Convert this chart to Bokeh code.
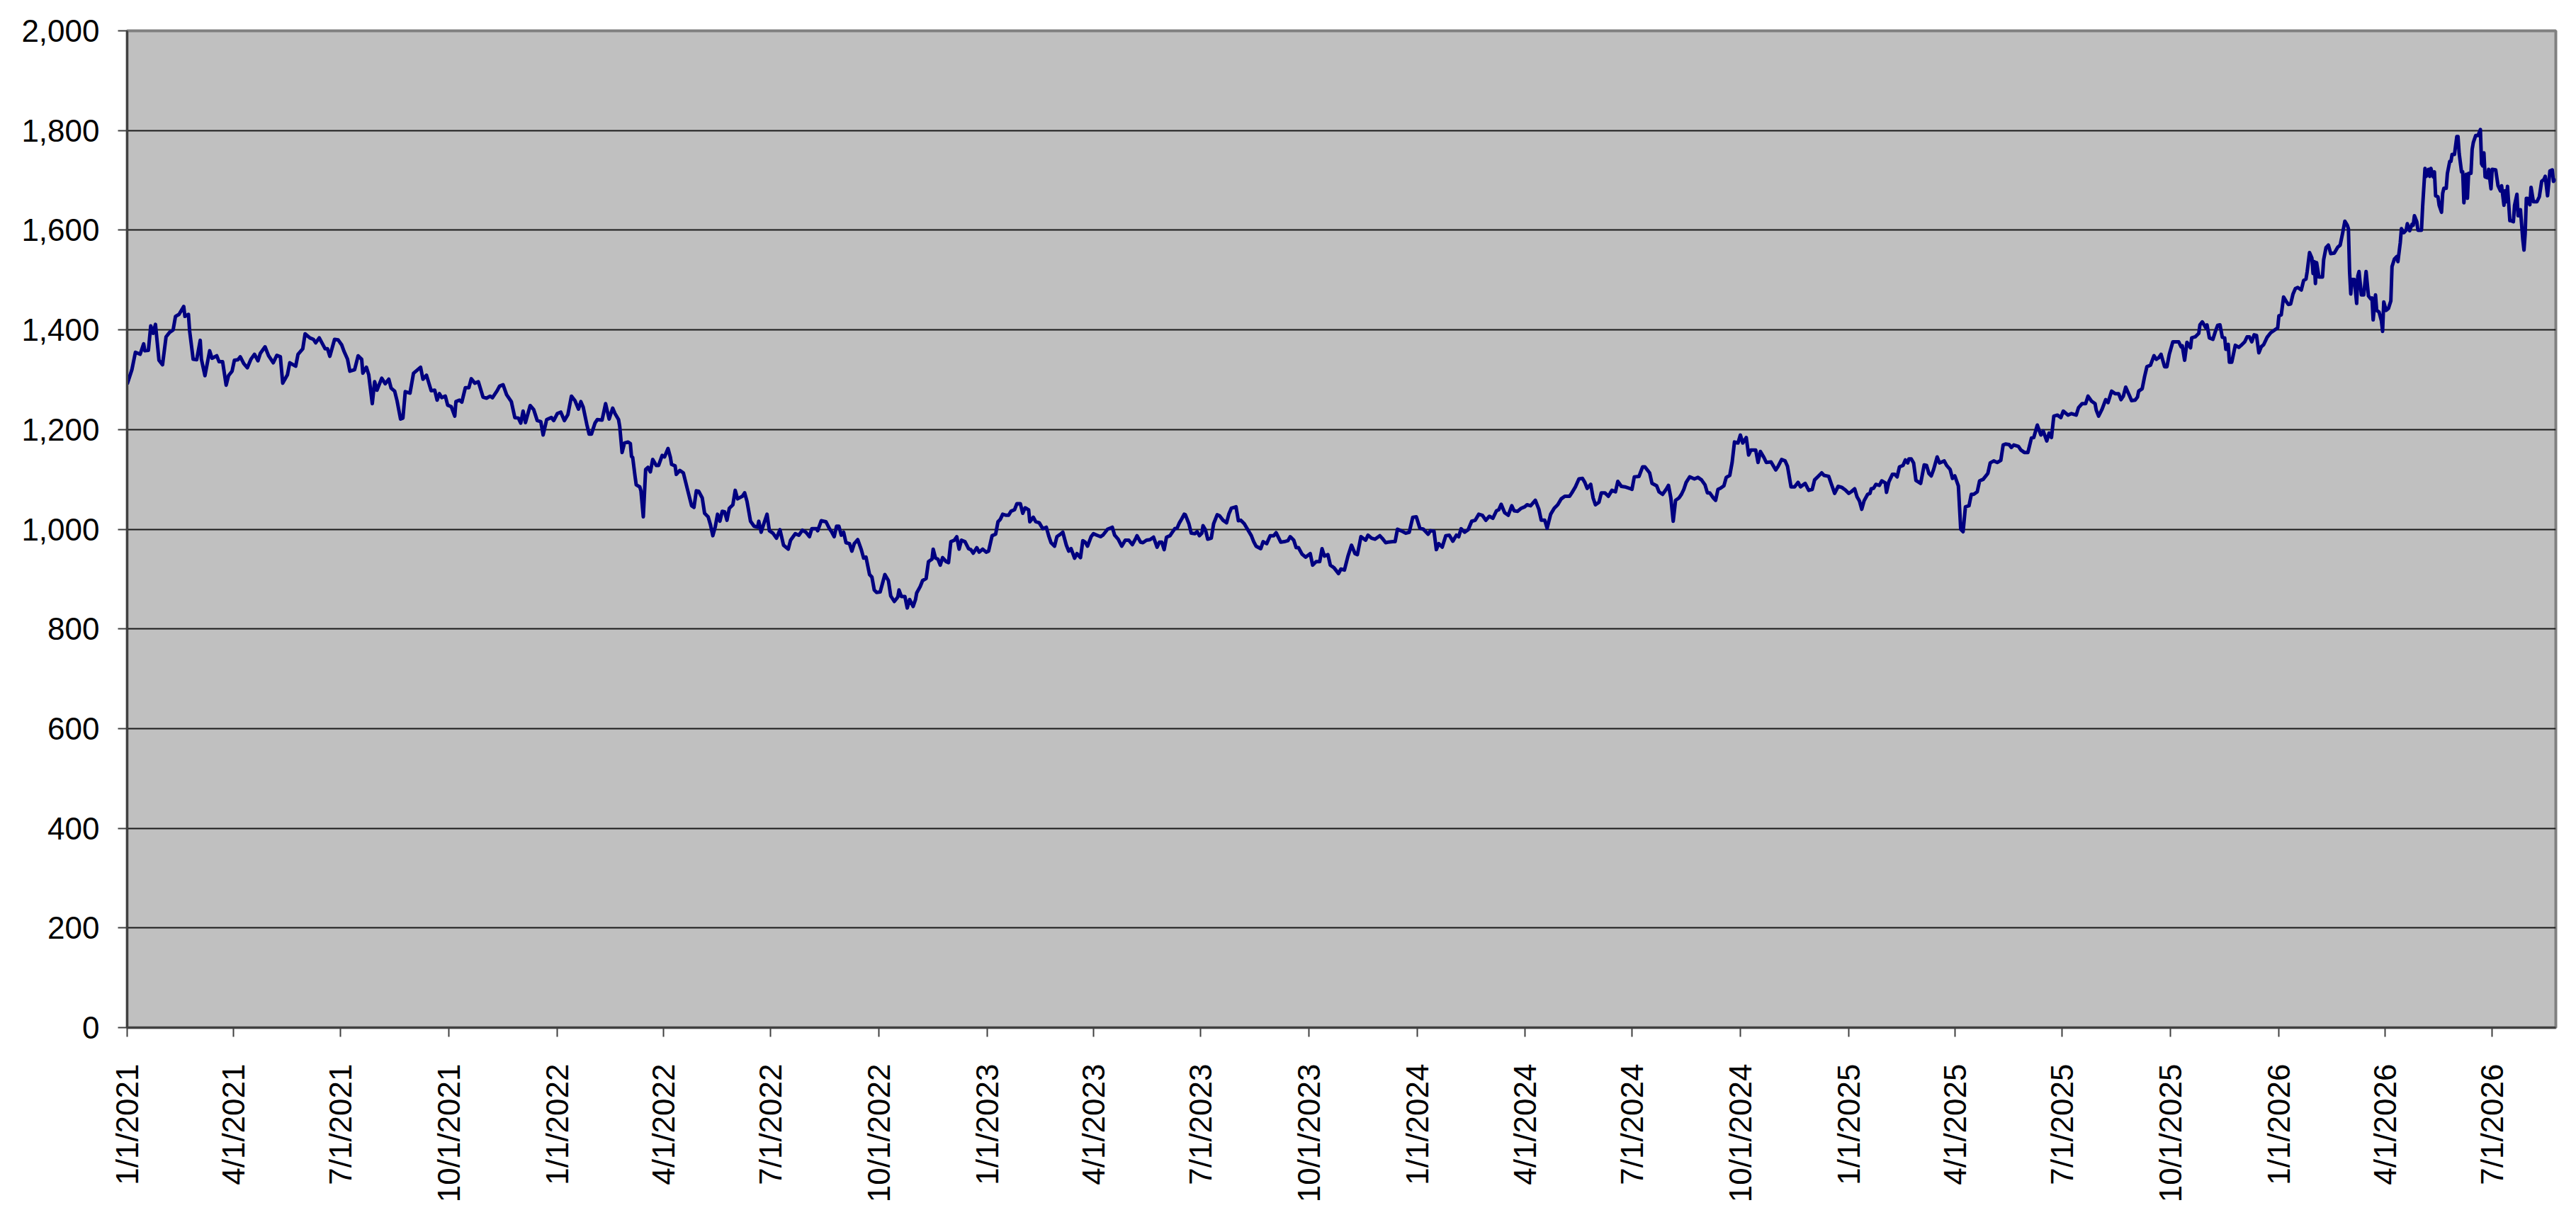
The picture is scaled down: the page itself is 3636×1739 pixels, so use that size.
import math
import numpy as np
import pandas as pd
from bokeh.plotting import figure
from bokeh.models import FixedTicker, NumeralTickFormatter, Range1d
from bokeh.embed import file_html
from bokeh.resources import INLINE

# (days since 1/1/2021, value)
obs_2021 = [(0,1291),(4,1320),(7,1355),(11,1351),(14,1372),(15,1358),(18,1359),(20,1408),(22,1393),(24,1411),
 (27,1339),(30,1330),(33,1386),(36,1395),(39,1400),(41,1427),(44,1431),(48,1447),(49,1427),(52,1431),
 (53,1398),(56,1341),(59,1340),(62,1379),(63,1341),(66,1308),(70,1358),(72,1343),(76,1348),(78,1336),
 (81,1336),(84,1289),(86,1308),(89,1317),(91,1339),(94,1340),(96,1346),(99,1332),(102,1324),(105,1341),
 (108,1351),(111,1338),(113,1353),(117,1366),(120,1348),(124,1334),(127,1349),(130,1346),(132,1293),(136,1310),
 (138,1334),(143,1327),(145,1351),(149,1362),(151,1392),(155,1384),(158,1381),(160,1374),(163,1384),(168,1362),
 (170,1362),(172,1347),(176,1381),(179,1380),(182,1370),(184,1357),(187,1341),(189,1317),(193,1320),(196,1348),
 (199,1341),(200,1313),(203,1325),(205,1310),(208,1252),(210,1296),(212,1279),(216,1303),(219,1292),(222,1301),
 (224,1283),(227,1277),(229,1258),(232,1221),(234,1223),(236,1276),(240,1273),(243,1313),(246,1319),(249,1325),
 (251,1301),(254,1309),(258,1278),(261,1279),(263,1259),(265,1272),(267,1264),(270,1267),(272,1249),(275,1246),
 (278,1227),(279,1256),(282,1259),(284,1255),(287,1284),(290,1284),(292,1302),(295,1293),(298,1296),(302,1265),
 (305,1263),(308,1267),(310,1264),(314,1278),(316,1287),(319,1290),(322,1270),(326,1256),(329,1224),(332,1223),
 (334,1213),(336,1237),(338,1214),(342,1248),(345,1240),(348,1218),(351,1216),(353,1189)]

obs_2022 = [(356,1220),(360,1224),(362,1218),(365,1232),(368,1235),(371,1218),(374,1230),(377,1267),(380,1258),(383,1241),
 (385,1256),(387,1245),(390,1211),(392,1191),(394,1191),(397,1213),(399,1220),(403,1219),(406,1252),(409,1221),
 (412,1243),(414,1232),(417,1220),(418,1206),(420,1154),(422,1173),(425,1175),(427,1172),(428,1146),(429,1144),
 (431,1106),(432,1089),(435,1085),(436,1077),(438,1025),(440,1120),(442,1124),(444,1115),(446,1140),(449,1128),
 (451,1128),(454,1148),(456,1145),(459,1162),(461,1144),(462,1130),(465,1127),(466,1110),(469,1118),(472,1113),
 (474,1094),(476,1075),(479,1047),(481,1044),(483,1077),(485,1076),(488,1063),(490,1032),(493,1025),(495,1009),
 (497,987),(499,1004),(501,1030),(503,1016),(505,1036),(507,1035),(509,1018),(511,1042),(514,1049),(516,1078),
 (518,1061),(522,1066),(524,1073),(526,1056),(529,1016),(532,1006),(535,1004),(536,1016),(538,994),(540,1009),
 (543,1030),(545,997),(548,992),(551,982),(554,999),(557,968),(561,960),(563,978),(567,991),(570,988),
 (573,998),(576,994),(579,985),(581,1001),(585,1001),(586,997),(589,1017),(593,1015),(596,1001),(598,994),
 (600,985),(602,1006),(604,1006),(606,988),(608,994),(610,973),(613,971),(615,956),(617,971),(620,979),
 (623,959),(625,942),(627,944),(630,909),(632,904),(634,878),(636,873),(639,874),(643,909),(646,897),
 (648,866),(651,855),(654,864),(655,878),(657,865),(660,865),(662,842),(664,859),(667,845),(669,859),
 (670,872),(673,885),(675,897),(678,901),(680,935),(683,940),(684,960),(686,942),(688,940),(690,928),
 (692,943),(695,935),(697,933),(699,975),(702,978),(704,985),(706,960),(708,978),(711,975),(714,961)]

obs_2023 = [(716,959),(718,952),(721,963),(723,954),(726,960),(729,954),(731,956),(734,987),(737,990),(739,1015),
 (741,1020),(743,1030),(746,1028),(748,1028),(750,1036),(753,1039),(755,1051),(758,1051),(760,1032),(762,1043),
 (765,1039),(766,1015),(769,1024),(771,1015),(774,1013),(777,1001),(780,1004),(782,987),(784,973),(787,966),
 (789,985),(792,990),(794,994),(797,968),(799,956),(801,961),(804,942),(806,951),(809,943),(811,977),
 (813,974),(815,966),(818,985),(820,991),(823,988),(826,985),(828,988),(830,994),(832,1000),(836,1004),
 (838,988),(841,980),(844,966),(847,978),(850,978),(853,969),(856,982),(857,987),(860,974),(862,973),
 (865,978),(868,979),(871,984),(874,964),(876,974),(878,974),(880,959),(882,984),(885,987),(887,994),
 (889,1001),(891,1002),(893,1013),(895,1021),(897,1030),(898,1029),(901,1011),(903,992),(906,991),(908,995),
 (910,987),(912,992),(913,1007),(915,999),(917,980),(920,982),(922,1011),(925,1029),(927,1027),(930,1018),
 (933,1013),(935,1031),(937,1042),(941,1045),(943,1017),(945,1018),(948,1011),(951,999),(954,987),(956,975),
 (958,966),(962,961),(964,975),(967,971),(970,987),(973,987),(975,993),(979,974),(982,975),(985,977),
 (987,985),(990,978),(992,963),(994,963),(997,950),(1000,944),(1004,951),(1006,928),(1009,935),(1012,935),
 (1014,961),(1016,946),(1019,949),(1021,928),(1024,923),(1028,911),(1030,920),(1033,918),(1036,946),(1039,968),
 (1042,951),(1044,949),(1047,985),(1051,978),(1053,988),(1056,982),(1059,980),(1063,987),(1065,982),(1068,973),
 (1070,974),(1074,975),(1076,975),(1078,1000),(1081,997)]

obs_2024 = [(1085,992),(1088,994),(1091,1024),(1094,1025),(1097,1002),(1100,1000),(1104,990),(1106,997),(1109,996),(1111,959),
 (1113,971),(1116,964),(1119,987),(1122,988),(1125,976),(1128,988),(1130,985),(1132,1001),(1135,994),(1138,999),
 (1141,1016),(1144,1018),(1147,1030),(1150,1028),(1153,1018),(1156,1026),(1159,1022),(1162,1037),(1164,1039),(1166,1050),
 (1169,1033),(1172,1028),(1175,1047),(1177,1037),(1180,1036),(1183,1042),(1186,1045),(1188,1049),(1191,1047),(1195,1058),
 (1198,1040),(1200,1018),(1203,1018),(1205,1002),(1208,1030),(1211,1042),(1214,1049),(1217,1061),(1220,1066),(1224,1066),
 (1226,1073),(1229,1085),(1232,1101),(1235,1102),(1237,1094),(1239,1082),(1242,1090),(1244,1063),(1246,1049),(1249,1054),
 (1251,1073),(1254,1073),(1257,1066),(1260,1078),(1263,1075),(1265,1096),(1268,1086),(1271,1085),(1275,1082),(1277,1080),
 (1279,1105),(1283,1106),(1286,1125),(1288,1125),(1292,1113),(1294,1092),(1298,1087),(1300,1075),(1303,1070),(1306,1080),
 (1308,1088),(1310,1063),(1312,1016),(1314,1058),(1317,1063),(1319,1070),(1321,1080),(1323,1094),(1326,1105),(1330,1101),
 (1333,1104),(1336,1099),(1339,1089),(1341,1073),(1343,1073),(1346,1063),(1348,1058),(1350,1080),(1352,1082),(1355,1087),
 (1357,1104),(1360,1108),(1362,1134),(1364,1175),(1367,1173),(1369,1189),(1371,1173),(1374,1184),(1376,1149),(1378,1159),
 (1382,1159),(1384,1134),(1386,1156),(1389,1144),(1391,1134),(1395,1135),(1399,1119),(1401,1126),(1404,1140),(1407,1137),
 (1409,1126),(1412,1085),(1415,1085),(1418,1094),(1420,1085),(1424,1092),(1427,1078),(1430,1080),(1432,1099),(1435,1106),
 (1438,1113),(1440,1108),(1444,1106),(1446,1092)]

obs_2025 = [(1449,1072),(1452,1086),(1455,1084),(1458,1079),(1461,1072),(1463,1075),(1466,1081),(1468,1065),(1470,1057),(1472,1040),
 (1474,1057),(1477,1070),(1479,1072),(1480,1081),(1482,1082),(1484,1090),(1487,1088),(1489,1097),(1492,1093),(1493,1074),
 (1495,1095),(1498,1110),(1500,1110),(1502,1105),(1504,1125),(1507,1128),(1509,1139),(1511,1133),(1512,1141),(1514,1141),
 (1516,1133),(1518,1098),(1522,1092),(1525,1129),(1527,1128),(1529,1112),(1531,1107),(1533,1120),(1536,1145),(1538,1133),
 (1542,1137),(1544,1128),(1547,1120),(1549,1102),(1551,1107),(1554,1087),(1556,1000),(1558,995),(1560,1045),(1563,1047),
 (1565,1070),(1567,1070),(1570,1075),(1572,1097),(1575,1100),(1579,1112),(1581,1133),(1584,1137),(1587,1134),(1590,1138),
 (1592,1169),(1594,1171),(1597,1170),(1599,1164),(1601,1169),(1605,1166),(1607,1159),(1610,1154),(1613,1154),(1616,1183),
 (1618,1184),(1621,1209),(1624,1189),(1626,1197),(1629,1177),(1631,1193),(1633,1184),(1635,1227),(1638,1229),(1641,1224),
 (1643,1237),(1647,1229),(1650,1232),(1654,1229),(1656,1244),(1659,1252),(1662,1252),(1664,1267),(1667,1257),(1670,1252),
 (1671,1239),(1673,1227),(1676,1241),(1679,1260),(1681,1254),(1684,1277),(1687,1272),(1690,1272),(1692,1260),(1694,1267),
 (1696,1285),(1699,1269),(1701,1258),(1704,1259),(1706,1265),(1707,1277),(1710,1282),(1712,1306),(1714,1326),(1717,1329),
 (1720,1348),(1722,1341),(1724,1344),(1726,1351),(1729,1326),(1731,1326),(1733,1351),(1736,1376),(1739,1376),(1741,1376),
 (1743,1366),(1744,1368),(1746,1339),(1748,1375),(1751,1364),(1752,1384),(1755,1386),(1758,1393),(1759,1410),(1761,1416),
 (1764,1404),(1765,1410),(1767,1384),(1770,1381),(1772,1396),(1774,1409),(1776,1410),(1778,1385),(1780,1384),(1781,1361),
 (1783,1371),(1784,1335),(1786,1335),(1789,1369),(1792,1365),(1794,1369),(1797,1376),(1799,1386),(1801,1386),(1803,1376),
 (1805,1390),(1807,1389),(1809,1354),(1811,1366),(1813,1370)]

obs_2026 = [(1816,1385),(1819,1394),(1822,1399),(1825,1404),(1826,1428),(1828,1430),(1830,1466),(1832,1458),(1834,1451),(1836,1452),
 (1838,1472),(1840,1483),(1842,1485),(1845,1480),(1847,1499),(1849,1502),(1850,1517),(1852,1555),(1854,1544),(1855,1513),
 (1856,1537),(1857,1493),(1858,1535),(1860,1506),(1863,1506),(1864,1541),(1866,1565),(1868,1570),(1870,1553),(1873,1554),
 (1876,1566),(1878,1570),(1880,1593),(1882,1618),(1884,1610),(1885,1603),(1886,1517),(1887,1472),(1888,1501),(1890,1501),
 (1892,1453),(1893,1508),(1894,1517),(1896,1470),(1898,1470),(1900,1517),(1902,1468),(1904,1462),(1905,1464),(1906,1420),
 (1908,1470),(1909,1439),(1911,1436),(1913,1418),(1914,1397),(1915,1456),(1917,1439),(1919,1443),(1921,1458),(1922,1527),
 (1924,1542),(1926,1547),(1927,1537),(1929,1575),(1930,1603),(1932,1595),(1934,1600),(1935,1613),(1937,1599),(1939,1612),
 (1940,1610),(1941,1629),(1943,1617),(1944,1600),(1947,1600),(1948,1648),(1950,1724),(1951,1708),(1953,1722),(1954,1708),
 (1955,1724),(1957,1707),(1958,1717),(1959,1669),(1961,1667),(1962,1650),(1964,1636),(1965,1674),(1966,1684),(1968,1684),
 (1969,1714),(1971,1738),(1972,1738),(1973,1752),(1975,1752),(1977,1788),(1978,1788),(1979,1754),(1981,1717),(1982,1717),
 (1983,1655),(1985,1712),(1986,1664),(1987,1714),(1989,1714),(1990,1762),(1991,1776),(1993,1790),(1995,1790),(1997,1802),
 (1998,1733),(1999,1729),(2000,1755),(2001,1707),(2003,1705),(2004,1722),(2006,1683),(2007,1722),(2010,1721),(2012,1689),
 (2014,1679),(2015,1689),(2017,1650),(2018,1679),(2019,1657),(2020,1688),(2022,1619),(2023,1619),(2025,1617),(2026,1650),
 (2028,1672),(2029,1629),(2030,1629),(2031,1641),(2033,1581),(2034,1560),(2035,1593),(2036,1664),(2037,1664),(2039,1651),
 (2040,1686),(2042,1657),(2045,1657),(2047,1667),(2049,1698),(2051,1702),(2052,1708),(2054,1669),(2056,1719),(2058,1721),
 (2059,1698),(2061,1703)]

x_tick_labels = ["1/1/2021", "4/1/2021", "7/1/2021", "10/1/2021",
                 "1/1/2022", "4/1/2022", "7/1/2022", "10/1/2022",
                 "1/1/2023", "4/1/2023", "7/1/2023", "10/1/2023",
                 "1/1/2024", "4/1/2024", "7/1/2024", "10/1/2024",
                 "1/1/2025", "4/1/2025", "7/1/2025", "10/1/2025",
                 "1/1/2026", "4/1/2026", "7/1/2026"]
y_ticks = [0, 200, 400, 600, 800, 1000, 1200, 1400, 1600, 1800, 2000]

segments = [obs_2021, obs_2022, obs_2023, obs_2024, obs_2025, obs_2026]
day = [d for seg in segments for d, _ in seg]
price = [v for seg in segments for _, v in seg]

start = np.datetime64("2021-01-01", "ms")
dates = start + np.array(day, dtype="timedelta64[D]").astype("timedelta64[ms]")
start_ms = float(start.astype("int64"))
end_ms = float(dates[-1].astype("int64"))

tick_ms = [float(pd.Timestamp(pd.to_datetime(s, format="%m/%d/%Y")).value // 10**6) for s in x_tick_labels]

FONT = "Liberation Sans"

p = figure(width=3620, height=1720, x_axis_type="datetime",
           output_backend="svg", toolbar_location=None,
           x_range=Range1d(start_ms, end_ms), y_range=Range1d(0, 2000),
           min_border_left=179, min_border_right=13,
           min_border_top=43, min_border_bottom=270)

p.background_fill_color = "#C0C0C0"
p.border_fill_color = "white"
p.outline_line_color = "#808080"
p.outline_line_width = 4

p.xgrid.visible = False
p.ygrid.grid_line_color = "#1a1a1a"
p.ygrid.grid_line_width = 2

p.yaxis.ticker = FixedTicker(ticks=y_ticks)
p.yaxis.formatter = NumeralTickFormatter(format="0,0")
p.xaxis.ticker = FixedTicker(ticks=tick_ms)
p.xaxis.major_label_overrides = {t: s for t, s in zip(tick_ms, x_tick_labels)}
p.xaxis.major_label_orientation = math.pi / 2

for ax in (p.xaxis, p.yaxis):
    ax.axis_line_color = "#404040"
    ax.axis_line_width = 3
    ax.major_tick_line_color = "#404040"
    ax.major_tick_line_width = 2
    ax.major_tick_out = 13
    ax.major_tick_in = 0
    ax.minor_tick_line_color = None
    ax.major_label_text_font = FONT
    ax.major_label_text_font_size = "44px"
    ax.major_label_text_color = "black"
p.yaxis.major_label_standoff = 26
p.xaxis.major_label_standoff = 38

p.line(dates, price, line_color="#000080", line_width=5, line_join="round")

open("out.html", "w").write(file_html(p, INLINE))
